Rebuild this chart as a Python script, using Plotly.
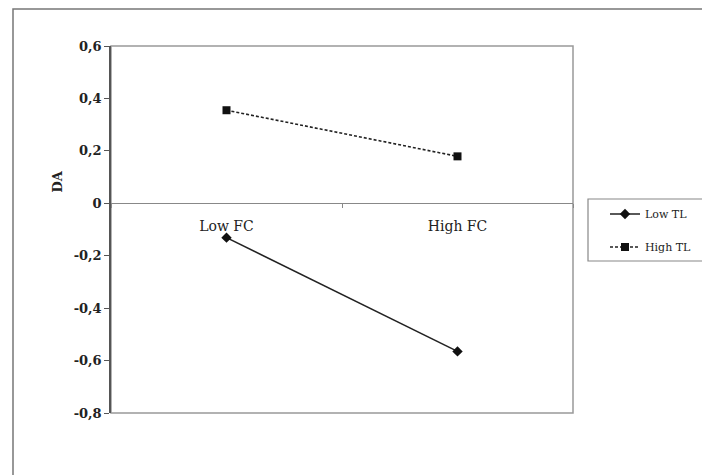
import plotly.graph_objects as go

categories = ["Low FC", "High FC"]
low_tl = [-0.131, -0.565]
high_tl = [0.355, 0.179]
series_names = ["Low TL", "High TL"]
y_tickvals = [0.6, 0.4, 0.2, 0, -0.2, -0.4, -0.6, -0.8]
y_ticktext = ["0,6", "0,4", "0,2", "0", "-0,2", "-0,4", "-0,6", "-0,8"]

# page has an 8px default body margin; compensate so the figure lands at the window origin
OFF = 8
W, H = 710 - OFF, 475 - OFF
L, R, T, B = 111 - OFF, 573 - OFF, 46 - OFF, 413 - OFF
pw, ph = R - L, B - T

def px_x(x):
    return (x - OFF - L) / pw

def px_y(y):
    return (B - (y - OFF)) / ph

fig = go.Figure()
fig.add_trace(go.Scatter(
    x=categories, y=low_tl, name=series_names[0], mode="lines+markers",
    line=dict(color="#222222", width=1.6),
    marker=dict(symbol="diamond", size=8, color="#111111"),
    legend="legend",
))
fig.add_trace(go.Scatter(
    x=categories, y=high_tl, name=series_names[1], mode="lines+markers",
    line=dict(color="#222222", width=1.6, dash="3px,2px"),
    marker=dict(symbol="square", size=8, color="#111111"),
    legend="legend2",
))

ymin, ymax = -0.8, 0.6
zero_pos = (0 - ymin) / (ymax - ymin)

fig.update_layout(
    width=W, height=H,
    margin=dict(l=L, r=W - R, t=T, b=H - B, pad=0),
    paper_bgcolor="white", plot_bgcolor="white",
    font=dict(family="DejaVu Serif", color="#222222"),
    xaxis=dict(
        type="category", range=[-0.5, 1.5], anchor="free", position=zero_pos,
        showline=True, linecolor="#888888", linewidth=1.2,
        ticks="outside", tickson="boundaries", ticklen=4, tickcolor="#888888",
        showgrid=False, zeroline=False,
        tickfont=dict(family="DejaVu Serif", size=14, color="#222222"),
        ticklabelstandoff=10,
    ),
    yaxis=dict(
        range=[ymin, ymax], tickvals=y_tickvals, ticktext=y_ticktext,
        showline=True, linecolor="#555555", linewidth=1.5,
        ticks="outside", ticklen=5, tickcolor="#555555",
        showgrid=False, zeroline=False,
        tickfont=dict(family="DejaVu Serif", size=13, color="#222222", weight="bold"),
    ),
    legend=dict(
        x=px_x(605), xanchor="left", y=px_y(214), yanchor="middle",
        bgcolor="rgba(0,0,0,0)", borderwidth=0,
        font=dict(family="DejaVu Serif", size=11, color="#222222"),
    ),
    legend2=dict(
        x=px_x(605), xanchor="left", y=px_y(247), yanchor="middle",
        bgcolor="rgba(0,0,0,0)", borderwidth=0,
        font=dict(family="DejaVu Serif", size=11, color="#222222"),
    ),
    showlegend=True,
)

# plot-area border
fig.add_shape(type="rect", xref="paper", yref="paper", x0=0, x1=1, y0=0, y1=1,
              line=dict(color="#999999", width=1.5), layer="below")
# legend box
fig.add_shape(type="rect", xref="paper", yref="paper",
              x0=px_x(588), x1=px_x(709), y0=px_y(261), y1=px_y(199),
              line=dict(color="#888888", width=1.2))
# outer chart border
fig.add_shape(type="rect", xref="paper", yref="paper",
              x0=px_x(13), x1=px_x(720), y0=px_y(485), y1=px_y(9),
              line=dict(color="#777777", width=1.5))

fig.add_annotation(text="<b>DA</b>", xref="paper", yref="paper",
                   x=px_x(47), y=px_y(182), textangle=-90, showarrow=False,
                   font=dict(family="DejaVu Serif", size=13, color="#222222"))

fig.write_html("out.html")
